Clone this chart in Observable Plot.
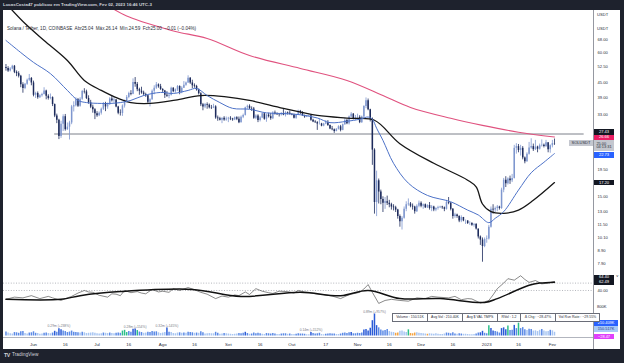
<!DOCTYPE html>
<html><head><meta charset="utf-8">
<script src="https://cdn.jsdelivr.net/npm/d3@7"></script>
<script src="https://cdn.jsdelivr.net/npm/@observablehq/plot@0.6"></script>
<style>
html,body{margin:0;padding:0;background:#1e222d;}
#root{position:relative;width:624px;height:363px;background:#1e222d;overflow:hidden;font-family:"Liberation Sans",Arial,sans-serif;}
.abs{position:absolute;white-space:nowrap;line-height:1;}
.box{position:absolute;display:flex;align-items:center;justify-content:center;white-space:nowrap;line-height:1;box-sizing:border-box;}
</style></head>
<body><div id="root"><div class="abs" style="left:3px;top:10px;width:617px;height:339px;background:#fff"></div></div>
<script>
// ---------- DATA (daily, starting 2022-05-19) ----------
const firstOpen = 52.0;
const close = [
51.5,50.3,51.2,52.6,49.6,49.0,47.8,44.0,42.5,44.2,46.0,46.8,44.8,
39.8,40.5,38.9,39.6,40.1,41.5,39.4,38.6,38.9,36.4,32.6,31.3,26.8,
30.1,32.4,28.6,29.3,30.5,35.6,36.0,38.1,35.8,38.3,41.3,41.1,38.6,
37.0,35.5,34.6,33.3,32.7,33.5,34.8,36.8,35.6,36.4,38.4,37.8,38.0,
35.6,33.5,33.4,35.9,37.5,39.0,40.5,40.2,45.0,44.2,42.0,41.4,40.7,
40.1,39.6,37.2,38.1,41.4,42.6,44.0,43.2,42.1,41.5,39.8,39.4,39.8,
42.6,41.2,41.9,43.3,40.9,42.6,43.8,44.8,46.9,44.8,43.6,43.3,41.9,
40.4,36.3,35.6,36.4,36.2,35.3,35.2,35.6,32.0,31.8,31.3,31.9,31.4,
31.7,31.9,31.7,31.4,32.1,31.6,30.6,32.2,32.8,35.3,35.8,35.0,34.9,
31.9,32.6,31.2,32.0,33.3,31.6,32.9,32.4,31.8,33.6,33.2,33.0,32.9,
33.4,32.9,33.7,33.5,33.1,32.9,31.9,32.9,34.1,33.6,32.7,32.3,32.6,
32.7,31.3,30.8,30.6,30.2,30.2,29.6,30.2,30.6,29.8,28.8,28.6,28.1,
28.7,29.4,28.4,30.0,31.2,30.3,32.3,33.2,31.7,32.1,32.2,30.6,32.3,
35.7,37.8,34.6,31.6,23.5,14.2,17.5,15.7,14.6,14.1,14.3,14.1,13.9,
13.6,13.5,13.2,12.4,11.8,12.2,13.3,13.9,14.0,13.7,13.6,13.0,13.7,
14.1,13.7,13.9,13.5,13.8,13.4,13.6,13.2,13.4,13.5,13.6,13.5,13.3,
14.2,14.1,13.3,12.4,12.6,12.4,11.9,12.3,11.9,11.9,11.6,11.6,11.4,
11.5,11.0,10.2,9.9,9.3,9.95,10.0,11.2,13.3,13.2,13.4,13.6,13.4,
16.0,17.6,17.0,17.8,17.5,17.9,23.9,24.3,23.4,23.9,21.8,21.0,22.6,
24.0,24.3,23.6,24.2,23.7,24.5,24.6,24.3,25.2,23.6,24.5,25.04,25.00];
const high = [
53.5,52.4,51.9,53.1,53.0,50.3,49.9,48.2,44.9,44.6,46.5,48.6,47.2,
45.6,41.0,41.1,40.0,40.6,42.8,41.8,40.0,40.3,39.2,36.6,33.2,31.6,
31.0,33.0,33.1,30.5,31.0,36.1,37.4,38.9,38.6,38.9,41.7,42.4,41.8,
39.6,37.9,36.2,35.0,34.0,33.9,35.2,37.1,37.2,36.9,38.9,39.5,38.9,
38.2,35.8,34.6,36.3,38.0,39.7,41.0,41.6,46.6,47.2,45.0,42.6,43.0,
41.4,40.6,39.8,38.5,41.9,43.6,45.0,44.4,44.2,42.4,41.7,41.2,40.3,
43.0,42.8,42.3,43.7,43.6,43.2,45.4,45.2,48.0,47.2,46.0,44.4,43.8,
42.3,40.8,36.8,36.8,37.0,36.6,36.1,36.5,36.0,32.6,32.2,32.0,32.4,
32.3,32.2,32.4,31.9,32.3,32.4,32.3,32.6,33.2,35.5,36.2,36.3,35.6,
35.4,33.0,33.0,32.4,33.6,33.5,33.2,33.5,33.4,34.0,34.2,33.6,33.3,
33.7,34.7,34.0,33.9,34.2,33.4,33.2,33.1,34.5,34.4,34.0,32.9,32.8,
32.9,32.9,31.6,31.2,30.9,31.6,30.4,30.4,31.2,31.2,29.9,29.5,28.8,
28.9,29.7,29.8,30.2,31.9,31.6,32.6,33.7,33.4,32.8,33.2,32.7,32.6,
36.0,38.8,38.4,34.8,32.0,23.8,19.2,17.8,16.0,15.0,14.9,15.1,14.5,
14.1,13.9,13.7,13.3,12.6,12.4,13.6,14.3,14.7,14.2,14.0,13.7,13.9,
14.4,14.3,14.0,14.0,13.9,14.2,13.8,13.7,13.5,13.7,13.7,13.7,13.6,
14.5,14.9,14.2,13.4,12.8,12.7,12.5,12.5,12.3,12.0,11.9,11.8,11.7,
11.6,11.6,11.0,10.3,10.1,10.1,10.3,11.4,13.6,13.9,13.6,13.8,13.7,
16.3,17.9,18.2,18.0,18.3,18.6,24.6,25.0,24.8,24.6,24.3,22.0,22.9,
25.3,26.2,24.9,25.8,24.4,24.9,25.9,24.9,25.8,25.2,24.7,25.8,26.14];
const low = [
50.2,49.6,49.8,50.8,49.0,47.6,47.0,42.8,40.6,42.0,43.8,45.5,43.6,
39.2,38.6,38.3,38.6,39.1,39.9,38.1,38.0,38.1,35.7,32.1,30.3,26.0,
26.3,28.1,28.2,28.4,25.9,30.0,33.9,35.6,35.4,35.5,37.9,40.3,38.2,
36.5,35.0,33.5,31.5,32.2,32.4,32.9,34.4,34.0,34.8,36.1,37.3,36.9,
35.3,33.0,32.6,32.5,35.2,37.0,38.5,39.6,40.0,43.0,41.2,39.8,40.2,
39.4,39.0,36.8,35.6,37.9,40.0,42.1,42.6,41.7,40.5,38.6,39.0,38.5,
39.5,40.8,40.6,41.3,40.0,40.4,42.5,43.4,44.6,44.2,42.4,42.6,41.4,
39.9,35.7,34.3,35.0,34.8,34.9,34.7,35.0,31.6,31.0,31.1,30.3,31.0,
31.0,30.6,31.2,31.0,31.2,31.2,30.3,30.5,31.8,32.6,34.8,34.7,34.1,
31.6,31.5,30.6,30.8,31.8,31.3,30.7,32.0,31.3,31.5,32.9,32.8,32.3,
32.6,32.7,32.3,32.9,32.9,32.7,31.7,31.6,32.8,33.0,32.5,31.9,32.1,
32.3,31.0,30.6,30.4,28.4,29.9,29.4,29.4,30.0,29.5,28.6,28.3,27.6,
28.0,28.5,28.0,28.3,29.8,30.0,29.9,32.0,31.4,31.2,31.7,30.3,30.4,
31.9,35.0,34.3,30.8,20.3,12.7,12.4,14.0,13.9,12.9,13.3,13.8,13.5,
13.2,13.1,12.9,12.1,11.2,10.9,12.1,13.0,13.7,13.5,13.2,12.7,12.9,
13.5,13.5,13.3,13.4,13.4,13.2,13.0,13.0,13.0,13.2,13.4,13.3,13.0,
13.2,13.9,13.1,12.1,12.2,12.2,11.7,11.7,11.8,11.5,11.5,11.4,11.3,
11.2,10.9,10.0,9.4,8.0,9.2,9.6,9.9,11.1,12.7,12.9,13.0,13.2,
13.3,15.6,16.4,16.8,16.9,17.2,17.8,22.6,22.9,22.2,21.4,20.6,20.9,
22.4,23.7,23.2,23.4,22.9,23.5,24.2,24.0,24.1,22.9,22.8,24.0,24.59];
// volume in thousands
const volume = [
160,120,90,80,140,130,110,170,180,100,80,120,130,
170,110,100,70,80,110,120,100,90,120,190,150,290,
250,200,180,140,160,200,150,140,130,120,150,130,100,
110,120,130,110,90,80,90,120,110,100,120,100,90,
110,120,110,200,230,140,180,150,270,280,220,160,140,
110,120,150,140,180,160,170,130,100,120,140,320,150,
140,100,90,120,130,110,120,110,150,140,130,110,120,
110,170,130,80,90,100,90,90,150,110,70,80,100,
90,80,70,60,70,80,100,90,110,150,100,70,80,
120,90,110,90,70,60,100,90,80,100,80,60,60,
80,90,90,70,80,60,60,70,90,80,80,70,50,
50,140,100,80,90,110,60,50,70,80,90,80,80,
60,60,80,110,120,100,130,140,90,90,110,100,120,
240,260,200,310,620,890,420,330,240,200,220,260,180,
150,140,110,120,190,200,160,140,250,100,90,120,130,
110,100,90,80,70,90,80,70,90,70,60,60,80,
120,110,90,130,80,70,90,80,70,70,60,50,50,
60,80,120,130,190,110,90,420,300,200,180,160,120,
300,330,250,400,220,230,430,300,520,300,340,250,220,
270,260,200,210,180,230,260,200,170,180,230,210,150];
const greenVolDays = [55,56,57,62,190,228,237,242];
const volAnnDays = [25,61,76,144,174];
const volAnnText = ["0.29m (+238%)","0.28m (+154%)","0.32m (+145%)","0.14m (+152%)","0.89m (+957%)"];

// moving averages: [day index, value]
const ma200 = [[50,92],[56,86],[62,82],[67,79.3],[80,73.5],[95,68.7],[115,58.3],[139,51.5],[161,45.9],[178,39.7],[191,35.4],[210,31.9],[225,29.8],[242,27.9],[259,26.66]];
const ma50 = [[2,92],[9,79.3],[18,67.4],[29,55.6],[37,45.9],[45,41.7],[53,38.6],[59,37.1],[68,36.8],[80,38.0],[92,39.7],[104,39.2],[115,37.9],[131,35.1],[147,32.8],[163,31.9],[174,31.3],[186,25.0],[202,20.7],[218,17.6],[222,16.5],[225,14.0],[229,13.0],[235,12.8],[242,13.2],[249,14.5],[259,17.2]];
const ema20 = [[0,67.4],[7,60.0],[13,54.6],[21,49.0],[29,41.7],[34,37.9],[38,37.1],[45,36.8],[49,36.8],[54,37.1],[59,37.9],[65,39.7],[73,40.9],[79,40.5],[86,41.7],[90,42.5],[95,39.7],[101,37.1],[107,35.1],[115,34.8],[123,33.6],[131,33.4],[139,33.0],[147,32.0],[153,30.6],[161,31.0],[167,31.6],[171,32.3],[173,31.6],[175,29.0],[178,25.8],[183,20.7],[190,17.1],[199,15.2],[210,14.3],[218,13.2],[223,12.6],[228,11.7],[231,12.2],[235,13.0],[242,16.0],[248,18.9],[254,20.9],[259,22.73]];
const rsi = [[0,16],[4,22],[8,20],[12,26],[16,18],[20,24],[22,20],[26,13],[29,20],[31,24],[34,33],[37,40],[39,36],[41,35],[44,27],[48,22],[50,31],[52,30],[54,26],[56,40],[59,34],[62,37],[64,33],[66,31],[69,43],[72,36],[74,38],[77,35],[79,45],[82,40],[86,48],[89,42],[92,35],[95,30],[99,18],[102,25],[105,22],[108,28],[110,26],[113,36],[115,29],[118,45],[121,38],[124,34],[126,32],[129,38],[133,37],[136,33],[138,40],[141,36],[143,35],[146,31],[150,29],[154,25],[158,18],[161,26],[163,30],[167,35],[169,44],[171,56],[173,35],[176,5],[179,13],[182,16],[186,13],[190,11],[194,20],[198,18],[201,24],[204,22],[209,20],[212,24],[215,15],[218,18],[220,17],[224,6],[226,9],[228,13],[230,28],[232,45],[235,60],[237,72],[240,68],[243,80],[245,70],[247,62],[250,67],[253,58],[256,60],[259,64.4]];
const rsiMA = [[0,16],[26,16],[35,26],[54,37],[88,43],[111,24],[139,35],[158,26],[171,40],[186,18],[205,18],[226,7.5],[232,18],[247,54],[252,60],[259,62.49]];

const hLevel = 27.43, hFrom = "2022-06-11", hTo = "2023-02-16";
const priceTicks = [68,60,52.5,45,39,33,19.5,15,13,11.5,10.1,8.9,7.9];
const timeTickDates = ["2022-06-01","2022-06-16","2022-07-01","2022-07-16","2022-08-01","2022-08-16","2022-09-01","2022-09-16","2022-10-01","2022-10-17","2022-11-01","2022-11-16","2022-12-01","2022-12-16","2023-01-01","2023-01-16","2023-02-01"];
const timeTickLabels = ["Jun","16","Jul","16","Ago","16","Set","16","Out","17","Nov","16","Dez","16","2023","16","Fev"];

// ---------- BUILD ----------
const FONT = '"Liberation Sans", Arial, sans-serif';
const DAY = 864e5, T0 = Date.UTC(2022,4,19);
const dateOf = i => new Date(T0 + i*DAY);
const xDomain = [new Date(Date.UTC(2022,4,17,20)), new Date(Date.UTC(2023,1,20,10))];
const UP = "#7f97cf", DOWN = "#1d2b5c";
const candles = close.map((c,i) => ({date: dateOf(i), open: i ? close[i-1] : firstOpen, close: c, high: high[i], low: low[i]}));
const toPts = arr => arr.map(([i,v]) => ({date: dateOf(i), v}));
const root = document.getElementById("root");
function place(el, top){ el.style.position="absolute"; el.style.left="0px"; el.style.top=top+"px"; root.appendChild(el); }
function txt(t, left, top, size, color, extra=""){ const d=document.createElement("div"); d.className="abs"; d.textContent=t; d.style.cssText+=`left:${left}px;top:${top}px;font-size:${size}px;color:${color};${extra}`; root.appendChild(d); return d; }
function box(t, left, cy, w, h, bg, fg, size, extra=""){ const d=document.createElement("div"); d.className="box"; d.innerHTML=t; d.style.cssText+=`left:${left}px;top:${cy-h/2}px;width:${w}px;height:${h}px;background:${bg};color:${fg};font-size:${size}px;${extra}`; root.appendChild(d); return d; }
const common = {width:624, marginLeft:3, marginRight:31, style:{background:"transparent", overflow:"visible", fontFamily:FONT, color:"#131722"}, x:{type:"utc", domain:xDomain, axis:null}, color:{type:"identity"}};

// price pane
const price = Plot.plot({...common, height:262, marginTop:0, marginBottom:0,
  y:{type:"log", domain:[7.247, 89.9], axis:null},
  marks:[
    Plot.ruleY([{y:hLevel, x1:new Date(hFrom), x2:new Date(hTo)}], {y:"y", x1:"x1", x2:"x2", stroke:"#7d808a", strokeWidth:1}),
    Plot.ruleX(candles, {x:"date", y1:"low", y2:"high", stroke:d=>d.close>=d.open?UP:DOWN, strokeWidth:0.8, clip:true}),
    Plot.ruleX(candles, {x:"date", y1:"open", y2:"close", stroke:d=>d.close>=d.open?UP:DOWN, strokeWidth:1.5, clip:true}),
    Plot.line(toPts(ma200), {x:"date", y:"v", stroke:"#e0527f", strokeWidth:1.1, curve:"catmull-rom", clip:true}),
    Plot.line(toPts(ma50), {x:"date", y:"v", stroke:"#161616", strokeWidth:1.3, curve:"catmull-rom", clip:true}),
    Plot.line(toPts(ema20), {x:"date", y:"v", stroke:"#4d72c8", strokeWidth:1.0, curve:"catmull-rom", clip:true}),
    Plot.axisY({ticks:priceTicks, anchor:"right", tickSize:0, tickPadding:4, tickFormat:d3.format(".2f"), fontSize:4.1, fill:"#2a2e39"})
  ]});
place(price, 10);

// RSI pane
const rsiPlot = Plot.plot({...common, height:33, marginTop:0, marginBottom:0,
  y:{domain:[2,91.5], axis:null},
  marks:[
    Plot.ruleY([40,60], {stroke:"#9598a1", strokeWidth:0.7, strokeDasharray:"1,1.6"}),
    Plot.line(toPts(rsi), {x:"date", y:"v", stroke:"#3a3a3a", strokeWidth:0.6, curve:"linear", clip:true}),
    Plot.line(toPts(rsiMA), {x:"date", y:"v", stroke:"#111", strokeWidth:1.5, curve:"catmull-rom", clip:true}),
    Plot.axisY({ticks:[40], anchor:"right", tickSize:0, tickPadding:4, tickFormat:d3.format(".2f"), fontSize:4.1, fill:"#2a2e39"})
  ]});
place(rsiPlot, 271);

// volume pane + time axis
function volColor(i){
  if (greenVolDays.includes(i)) return "#2bbf8a";
  const prev = volume.slice(Math.max(0,i-20), i);
  const r = volume[i] / (prev.length ? d3.mean(prev) : volume[i]);
  if (r > 1.6) return "#2a5bd7";
  if (r > 0.85) return "#5b8ae6";
  if (r > 0.5) return "#a7c5f2";
  return "#f4a340";
}
const volRows = volume.map((v,i) => ({date: dateOf(i), v, c: volColor(i)}));
const annRows = volAnnDays.map((d,k) => ({date: dateOf(d), v: volume[d], t: volAnnText[k]}));
const labelMap = new Map(timeTickDates.map((d,k) => [+new Date(d), timeTickLabels[k]]));
const volPlot = Plot.plot({...common, height:49, marginTop:10.8, marginBottom:13.5,
  y:{domain:[0,1000], axis:null},
  marks:[
    Plot.ruleX(volRows, {x:"date", y1:0, y2:"v", stroke:"c", strokeWidth:1.5}),
    Plot.text(annRows, {x:"date", y:"v", text:"t", dy:-2.5, fontSize:3.3, fill:"#787b86"}),
    Plot.axisX({ticks:timeTickDates.map(d=>new Date(d)), tickFormat:d=>labelMap.get(+d), tickSize:0, tickPadding:6.5, fontSize:4.4, fill:"#2a2e39", anchor:"bottom"})
  ]});
place(volPlot, 300);

// frame lines
const vline = document.createElement("div"); vline.className="abs"; vline.style.cssText+="left:593px;top:10px;width:0.8px;height:339px;background:#9598a1"; root.appendChild(vline);
const tline = document.createElement("div"); tline.className="abs"; tline.style.cssText+="left:3px;top:337px;width:590px;height:0.8px;background:#b2b5be"; root.appendChild(tline);

// header, legend, footer
txt("LucasCosta47 publicou em TradingView.com, Fev 02, 2023 16:46 UTC-3", 3, 3, 4.4, "#d1d4dc", "font-weight:600");
txt("Solana / Tether, 1D, COINBASE  Abr25.04  Máx.26.14  Mín.24.59  Fch25.00  −0.01 (−0.04%)", 7, 26.8, 4.6, "#2a2e39", "white-space:pre");
txt("TV", 4, 352.5, 5.2, "#d1d4dc", "font-weight:700;letter-spacing:-0.3px");
txt("TradingView", 12, 352.8, 4.8, "#d1d4dc");
txt("USDT", 597, 13, 4.1, "#2a2e39");
txt("USDT", 597, 27, 4.1, "#2a2e39");

// price scale labels
const py = v => 10 + price.scale("y").apply(v);
box("27.43", 594, py(27.43)-1.5, 20, 5.6, "#131722", "#fff", 4.1);
box("26.66", 594, py(26.66)+1, 20, 5.6, "#e91e63", "#fff", 4.1);
box("25.00<br>04:13:31", 594, py(25.00)+2.3, 20, 11, "#c4c7cf", "#2a2e39", 3.9, "flex-direction:column;gap:1px");
box("SOLUSDT", 569, py(25.00), 24, 5.8, "#c4c7cf", "#2a2e39", 4.0);
box("22.73", 594, py(22.73)+2, 20, 5.6, "#2962ff", "#fff", 4.1);
box("17.20", 594, py(17.20)+0.5, 20, 5.6, "#131722", "#fff", 4.1);
const ry = v => 271 + rsiPlot.scale("y").apply(v);
box("64.40", 594, ry(64.40)-3.6, 20, 5.4, "#131722", "#fff", 4.1);
box("62.49", 594, ry(62.49)+0.8, 20, 5.4, "#131722", "#fff", 4.1);
txt("800K", 597, 305, 4.1, "#2a2e39");
box("210.409K", 594, 323, 24, 5.4, "#2962ff", "#fff", 3.9);
box("150.517K", 594, 329, 24, 5.4, "#a9cbf7", "#1e3a8a", 3.9);
box("−28.47", 594, 336.8, 20, 5.4, "#e040fb", "#fff", 3.9);

// volume info table
const tbl = document.createElement("div"); tbl.className="abs";
tbl.style.cssText += "left:392px;top:313px;height:7px;display:flex;border:0.6px solid #6a6d78;background:#fff;font-size:3.5px;color:#2a2e39;";
[["Volume : 150.51K",34],["Avg Vol : 210.40K",34],["Avg $ VAL TMPS",34],["RVol : 1.2",22],["Δ Chg : −28.47%",34],["Vol Run Rate : −29.55%",43]].forEach(([t,w],k)=>{
  const c=document.createElement("div"); c.textContent=t; c.style.cssText=`width:${w}px;display:flex;align-items:center;justify-content:center;white-space:nowrap;${k?'border-left:0.6px solid #6a6d78;':''}`; tbl.appendChild(c);
});
root.appendChild(tbl);
</script></body></html>
